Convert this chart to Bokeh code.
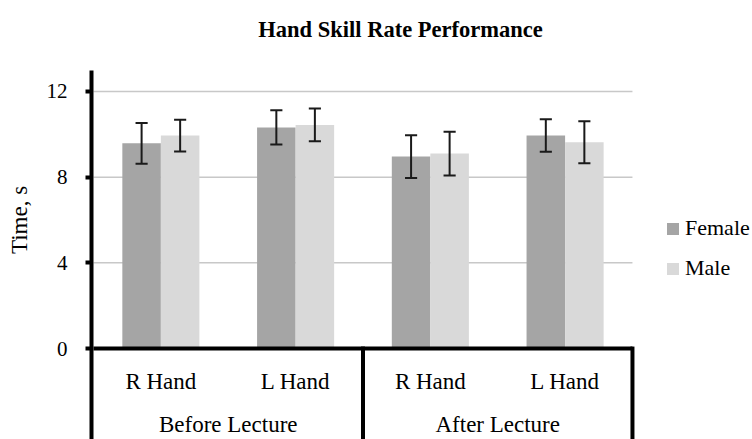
from bokeh.plotting import figure
from bokeh.models import FixedTicker, Label, ColumnDataSource, Range1d
from bokeh.transform import dodge
from bokeh.core.properties import value
from bokeh.embed import file_html
from bokeh.resources import INLINE

# ---- data ----
groups = ["Before Lecture", "After Lecture"]
hands = ["R Hand", "L Hand"]
series = ["Female", "Male"]
female = [9.58, 10.32, 8.96, 9.94]
female_err = [0.95, 0.80, 1.00, 0.76]
male = [9.94, 10.44, 9.10, 9.63]
male_err = [0.74, 0.77, 1.02, 0.98]
y_ticks = [0, 4, 8, 12]
title_text = "Hand Skill Rate Performance"
y_label = "Time, s"

FONT = "Liberation Serif"
F_COLOR = "#a5a5a5"
M_COLOR = "#d9d9d9"
GRID = "#c8c8c8"

W, H = 752, 439
LEFT = 91
PX_PER_X = 134.74
PX_PER_Y = 21.42
ZERO_PX = 348            # pixel row of y = 0
Y_BOTTOM = (ZERO_PX - H) / PX_PER_Y
Y_TOP = ZERO_PX / PX_PER_Y
AXIS_TOP = 12.98
X_START = -2 / PX_PER_X
X_END = X_START + (W - LEFT) / PX_PER_X

# category positions from the category lists
pairs = [(g, h) for g in groups for h in hands]
centers = [i + 0.5 for i in range(len(pairs))]
n_sub = len(hands)
group_centers = [n_sub * gi + n_sub / 2 for gi in range(len(groups))]
bounds = [n_sub * (gi + 1) for gi in range(len(groups))]
x_left_edge = 0
x_right_edge = len(pairs)

p = figure(width=W, height=H, x_range=Range1d(X_START, X_END),
           y_range=Range1d(Y_BOTTOM, Y_TOP),
           output_backend="svg", toolbar_location=None,
           min_border_left=LEFT, min_border_right=0, min_border_top=0,
           min_border_bottom=0)
p.outline_line_color = None
p.xaxis.visible = False
p.xgrid.visible = False
p.ygrid.visible = False

ax = p.yaxis[0]
ax.ticker = FixedTicker(ticks=y_ticks)
ax.bounds = (Y_BOTTOM, AXIS_TOP)
ax.axis_line_width = 4
ax.axis_line_color = "black"
ax.major_tick_line_width = 4
ax.major_tick_line_color = "black"
ax.major_tick_out = 6
ax.major_tick_in = 0
ax.minor_tick_line_color = None
ax.major_label_text_font = FONT
ax.major_label_text_font_size = "21px"
ax.major_label_text_color = "black"
ax.major_label_standoff = 18
ax.axis_label = y_label
ax.axis_label_text_font = FONT
ax.axis_label_text_font_size = "23px"
ax.axis_label_text_font_style = "normal"
ax.axis_label_text_color = "black"
ax.axis_label_standoff = 12

# horizontal gridlines at the y ticks (end at the plot area's right edge)
grid_y = [t for t in y_ticks if t > 0]
p.segment(x0=[x_left_edge] * len(grid_y), x1=[x_right_edge] * len(grid_y),
          y0=grid_y, y1=grid_y, line_color=GRID, line_width=1.5)

src = ColumnDataSource(dict(
    xf=[c - 0.143 for c in centers], xm=[c + 0.143 for c in centers],
    female=female, male=male,
    f_lo=[v - e for v, e in zip(female, female_err)],
    f_hi=[v + e for v, e in zip(female, female_err)],
    m_lo=[v - e for v, e in zip(male, male_err)],
    m_hi=[v + e for v, e in zip(male, male_err)]))

BW = 0.286
CAP = 0.045
p.vbar(x="xf", top="female", width=BW, source=src,
       fill_color=F_COLOR, line_color=None, legend_label=series[0])
p.vbar(x="xm", top="male", width=BW, source=src,
       fill_color=M_COLOR, line_color=None, legend_label=series[1])

for xcol, lo, hi in [("xf", "f_lo", "f_hi"), ("xm", "m_lo", "m_hi")]:
    p.segment(x0=xcol, x1=xcol, y0=lo, y1=hi, source=src,
              line_color="#1a1a1a", line_width=2)
    for end in (lo, hi):
        p.segment(x0=dodge(xcol, -CAP), x1=dodge(xcol, CAP), y0=end, y1=end,
                  source=src, line_color="#1a1a1a", line_width=2)

# category axis base line and separators
p.segment(x0=[x_left_edge], x1=[x_right_edge], y0=[0], y1=[0],
          line_color="black", line_width=4)
p.segment(x0=bounds, x1=bounds, y0=[0.09] * len(bounds), y1=[Y_BOTTOM] * len(bounds),
          line_color="black", line_width=4)

# category labels
p.text(x=centers, y=[-1.55] * len(centers), text=[h for (_, h) in pairs],
       text_font=value(FONT), text_font_size="23px", text_align="center",
       text_baseline="middle", text_color="black")
p.text(x=group_centers, y=[-3.56] * len(group_centers), text=groups,
       text_font=value(FONT), text_font_size="23px", text_align="center",
       text_baseline="middle", text_color="black")

# title
p.add_layout(Label(x=400 - LEFT, y=H - 29, x_units="screen", y_units="screen",
                   text=title_text, text_align="center", text_baseline="alphabetic",
                   text_font=FONT, text_font_size="22.5px", text_font_style="bold",
                   text_color="black"))

lg = p.legend[0]
lg.location = (665 - LEFT, 158)
lg.border_line_color = None
lg.background_fill_alpha = 0
lg.padding = 0
lg.margin = 0
lg.spacing = 14
lg.glyph_width = 15
lg.glyph_height = 15
lg.label_standoff = 5
lg.label_text_font = FONT
lg.label_text_font_size = "22px"
lg.label_text_color = "black"

open("out.html", "w").write(file_html(p, INLINE))
